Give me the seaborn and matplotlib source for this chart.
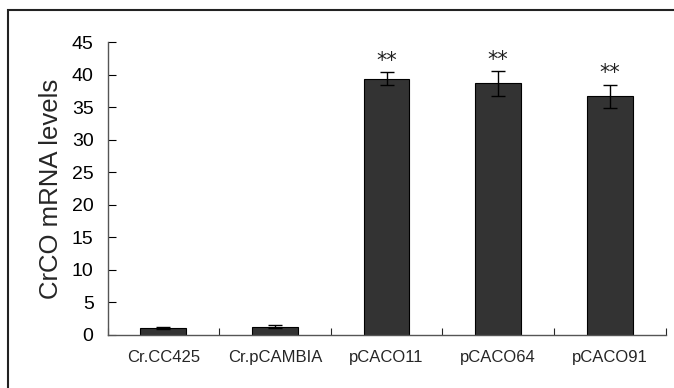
import seaborn as sns
import matplotlib.pyplot as plt
from matplotlib.patches import Rectangle
import numpy as np

# data
categories = ['Cr.CC425', 'Cr.pCAMBIA', 'pCACO11', 'pCACO64', 'pCACO91']
levels = [1.1, 1.3, 39.4, 38.7, 36.7]
errors = [0.15, 0.25, 1.0, 1.9, 1.8]
marks = ['', '', '**', '**', '**']

sns.set_style('white')
plt.rcParams['font.family'] = ['Liberation Sans', 'DejaVu Sans']

fig = plt.figure(figsize=(6.74, 3.88), dpi=100)
ax = fig.add_axes([0.1595, 0.1366, 0.828, 0.7544])

sns.barplot(x=categories, y=levels, color='#333333', edgecolor='black',
            linewidth=0.8, width=0.41, saturation=1, ax=ax)
pos = np.arange(len(categories))
ax.errorbar(pos, levels, yerr=errors, fmt='none', ecolor='black',
            elinewidth=1.0, capsize=5, capthick=1.0)

for x, v, e, m in zip(pos, levels, errors, marks):
    if m:
        ax.text(x, v + e + 0.2, m, ha='center', va='bottom', fontsize=15,
                family='DejaVu Sans', color='#222222')

ax.set_xlim(-0.5, len(categories) - 0.5)
ax.set_ylim(0, 45)
ax.set_yticks(range(0, 46, 5))
ax.tick_params(axis='y', direction='in', length=6, width=0.8, pad=10,
               labelsize=14, colors='black', left=True)
ax.tick_params(axis='x', which='major', length=0, pad=11, labelsize=12)
ax.set_xticks(np.arange(-0.5, len(categories)), minor=True)
ax.tick_params(axis='x', which='minor', direction='in', length=5, width=0.8,
               bottom=True)

for side in ['top', 'right']:
    ax.spines[side].set_visible(False)
for side in ['left', 'bottom']:
    ax.spines[side].set_color('#555555')
    ax.spines[side].set_linewidth(1.0)

ax.set_ylabel('CrCO mRNA levels', fontsize=18.5, labelpad=6)
ax.set_xlabel('')

# outer frame: only its top and left edges fall inside the picture
fig.patches.append(Rectangle((8 / 674, -0.05), 1.0, 1.0 - 10 / 388 + 0.05,
                             transform=fig.transFigure, fill=False,
                             edgecolor='#222222', linewidth=1.5))

fig.savefig('out.png', dpi=100)
